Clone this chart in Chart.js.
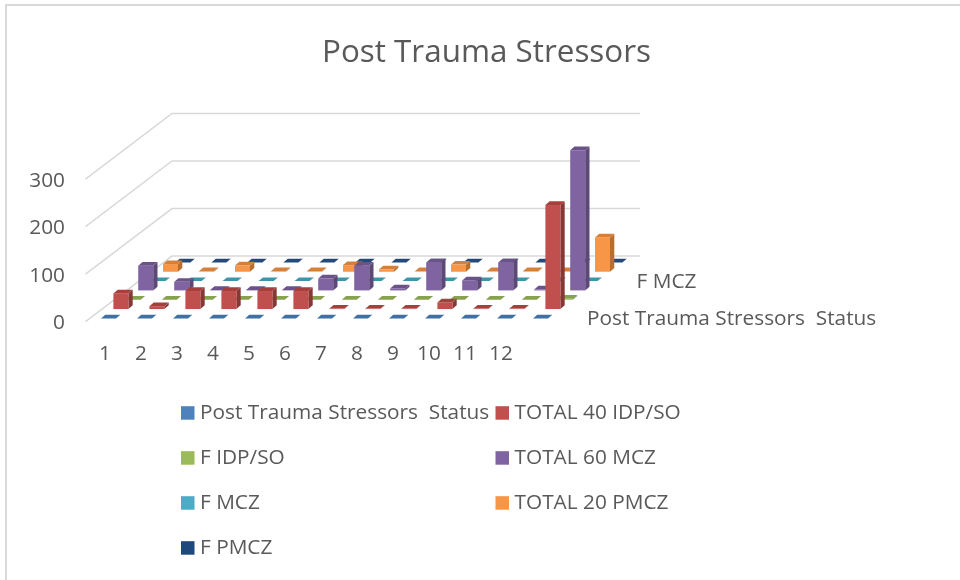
<!DOCTYPE html>
<html>
<head>
<meta charset="utf-8">
<style>html,body{margin:0;padding:0;background:#fff}canvas{display:block;filter:blur(0.55px)}</style>
<script src="https://cdn.jsdelivr.net/npm/chart.js@4"></script>
</head>
<body>
<canvas id="c" width="960" height="580"></canvas>
<script>
const categories = ["1","2","3","4","5","6","7","8","9","10","11","12",""];
const seriesNames = ["Post Trauma Stressors  Status","TOTAL 40 IDP/SO","F IDP/SO","TOTAL 60 MCZ","F MCZ","TOTAL 20 PMCZ","F PMCZ"];
const statusValues = [0,0,0,0,0,0,0,0,0,0,0,0,0];
const total40Idp   = [33,6,38,38,38,38,1,1,1,14,1,1,219];
const fIdp         = [0,0,0,0,0,0,0,0,0,0,0,0,2];
const total60Mcz   = [52,18,1,1,1,25,52,4,59,21,59,2,295];
const fMcz         = [0,0,0,0,0,0,0,0,0,0,0,0,0];
const total20Pmcz  = [16,1,13,1,1,14,5,1,15,1,1,1,72];
const fPmcz        = [0,0,0,0,0,0,0,0,0,0,0,0,0];
const seriesValues = [statusValues,total40Idp,fIdp,total60Mcz,fMcz,total20Pmcz,fPmcz];
const yTicks = [0,100,200,300];

const frontColors = ["#4F81BD","#C0504D","#9BBB59","#8064A2","#4BACC6","#F79646","#1F497D"];
const topColors   = ["#3F6FA3","#A5403D","#86A24C","#6B5389","#3F93AA","#D5803A","#234A78"];
const sideColors  = ["#335A85","#873835","#657A39","#5C4975","#317A8C","#B5702F","#173758"];

const FONT = '"Open Sans", sans-serif';
const TEXT = "#595959";
const ROW_DX = 12.4, ROW_DY = 9.33, SIDE_DX = 4.3, SIDE_DY = 3.7;
const WALL_DX = 86.5, WALL_DY = 65.7, FLOOR_X = 5, FLOOR_Y = 3.3;

const chart3d = {
  id: "chart3d",
  beforeDatasetsDraw(chart) {
    const {ctx, chartArea: a, scales: {y}} = chart;
    ctx.save();
    ctx.strokeStyle = "#d9d9d9";
    ctx.lineWidth = 1.6;
    yTicks.forEach(v => {
      const py = y.getPixelForValue(v) + FLOOR_Y, px = a.left - FLOOR_X;
      ctx.beginPath();
      ctx.moveTo(px, py);
      ctx.lineTo(px + WALL_DX, py - WALL_DY);
      ctx.lineTo(a.right + 81.5, py - WALL_DY);
      ctx.stroke();
    });
    ctx.restore();
  },
  beforeDatasetDraw(chart, args) {
    const {ctx} = chart, r = args.index;
    const ox = r * ROW_DX, oy = -r * ROW_DY;
    ctx.save();
    args.meta.data.forEach(el => {
      const p = el.getProps(["x","y","base","width"], true);
      const l = p.x - p.width / 2 + ox, w = p.width;
      const t = Math.min(p.y, p.base) + oy, b = p.base + oy, R = l + w;
      if (b - t > 0.01) {
        ctx.fillStyle = sideColors[r];
        ctx.beginPath();
        ctx.moveTo(R, t); ctx.lineTo(R + SIDE_DX, t - SIDE_DY);
        ctx.lineTo(R + SIDE_DX, b - SIDE_DY); ctx.lineTo(R, b);
        ctx.closePath(); ctx.fill();
        ctx.fillStyle = frontColors[r];
        ctx.fillRect(l, t, w, b - t);
      }
      ctx.fillStyle = topColors[r];
      ctx.beginPath();
      ctx.moveTo(l, t); ctx.lineTo(R, t);
      ctx.lineTo(R + SIDE_DX, t - SIDE_DY); ctx.lineTo(l + SIDE_DX, t - SIDE_DY);
      ctx.closePath(); ctx.fill();
    });
    ctx.restore();
    return false;
  },
  afterDraw(chart) {
    const {ctx, chartArea: a, scales: {y}, data} = chart;
    ctx.save();
    // frame
    ctx.strokeStyle = "#d9d9d9"; ctx.lineWidth = 2;
    ctx.beginPath(); ctx.moveTo(6, 580); ctx.lineTo(6, 5); ctx.lineTo(960, 5); ctx.stroke();
    // depth-axis labels
    ctx.fillStyle = TEXT; ctx.textBaseline = "middle"; ctx.textAlign = "left";
    ctx.font = "20.8px " + FONT;
    [0, 4].forEach(r => {
      ctx.fillText(data.datasets[r].label, a.right + 28.5 + r * ROW_DX, y.getPixelForValue(0) - r * ROW_DY + 1);
    });
    // legend, two columns filled row by row
    const colX = [181, 495.5], rowY = [413, 458, 503, 548];
    data.datasets.forEach((d, i) => {
      const x = colX[i % 2], yy = rowY[Math.floor(i / 2)];
      ctx.fillStyle = frontColors[i];
      ctx.fillRect(x, yy - 6.8, 13.5, 13.5);
      ctx.fillStyle = TEXT;
      ctx.fillText(d.label, x + 19, yy);
    });
    ctx.restore();
  }
};

new Chart(document.getElementById("c"), {
  type: "bar",
  data: {
    labels: categories,
    datasets: seriesNames.map((label, i) => ({
      label, data: seriesValues[i], backgroundColor: frontColors[i],
      grouped: false, barThickness: 15
    }))
  },
  options: {
    responsive: false,
    animation: false,
    layout: {padding: {left: 13, right: 0, top: 0, bottom: 201.6}},
    plugins: {
      legend: {display: false},
      tooltip: {enabled: false},
      title: {
        display: true,
        text: "Post Trauma Stressors",
        color: TEXT,
        font: {family: FONT, size: 31.4, weight: "normal", lineHeight: 1.2},
        padding: {top: 34, bottom: 104.2}
      }
    },
    scales: {
      x: {
        grid: {display: false},
        border: {display: false},
        ticks: {color: TEXT, font: {family: FONT, size: 20.8}, padding: 15, labelOffset: -3.5, maxRotation: 0, autoSkip: false},
        afterFit(s) { s.height = 60; }
      },
      y: {
        min: 0, max: 300,
        grid: {display: false},
        border: {display: false},
        afterBuildTicks(s) { s.ticks = yTicks.map(value => ({value})); },
        ticks: {color: TEXT, font: {family: FONT, size: 20.8}, padding: 17.5, labelOffset: 5},
        afterFit(s) { s.width = 77.5; }
      },
      pad: {
        type: "linear", position: "right",
        grid: {display: false}, border: {display: false},
        ticks: {display: false},
        afterFit(s) { s.width = 401.5; }
      }
    }
  },
  plugins: [chart3d]
});
</script>
</body>
</html>
